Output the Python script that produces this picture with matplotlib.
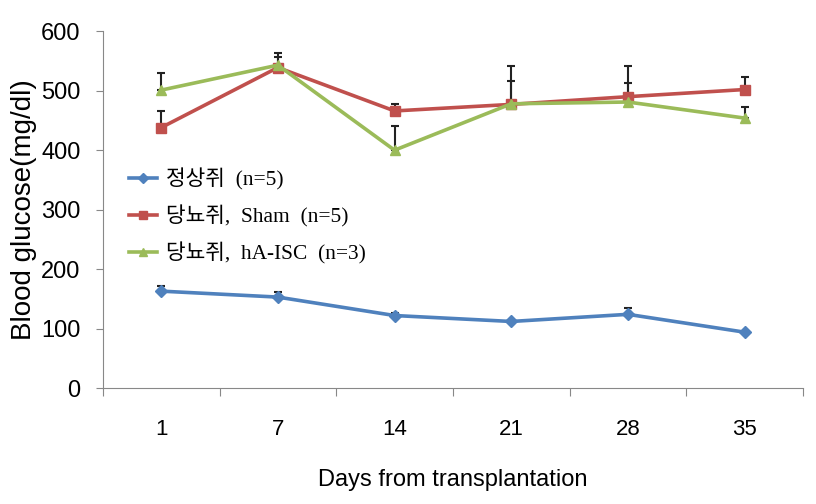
import numpy as np
import matplotlib.pyplot as plt

# data
days = ["1", "7", "14", "21", "28", "35"]

normal = [163, 153, 122, 112, 124, 94]
normal_err = [8, 8, 4, 0, 10, 0]

sham = [438, 539, 466, 477, 490, 502]
sham_err = [28, 25, 12, 65, 52, 21]

isc = [501, 543, 400, 478, 481, 454]
isc_err = [28, 14, 40, 39, 32, 19]

labels = ["정상쥐  (n=5)", "당뇨쥐,  Sham  (n=5)", "당뇨쥐,  hA-ISC  (n=3)"]

plt.rcParams['font.family'] = ['Liberation Sans', 'DejaVu Sans']

fig = plt.figure(figsize=(8.16, 5.04), dpi=100)
ax = fig.add_axes([0.126, 0.23, 0.858, 0.708])

x = np.arange(len(days))
series = [
    (normal, normal_err, "#4F81BD", "D", 6),
    (sham, sham_err, "#C0504D", "s", 7),
    (isc, isc_err, "#9BBB59", "^", 7),
]

handles = []
for (vals, errs, col, mk, ms), lab in zip(series, labels):
    vals = np.array(vals)
    errs = np.array(errs)
    ax.errorbar(x, vals, yerr=[np.zeros_like(errs), errs], fmt="none",
                ecolor="#222222", elinewidth=1.5, capsize=3, capthick=1.5,
                zorder=2)
    h, = ax.plot(x, vals, color=col, lw=2.6, marker=mk, ms=ms,
                 markeredgecolor=col, label=lab, zorder=3)
    handles.append(h)

ax.set_xlim(-0.5, len(days) - 0.5)
ax.set_ylim(0, 600)
ax.set_yticks(range(0, 601, 100))
ax.set_xticks(np.arange(-0.5, len(days), 1.0))
ax.set_xticklabels([])
ax.set_xticks(x, minor=True)
ax.set_xticklabels(days, minor=True)
ax.tick_params(axis="x", which="major", length=6, color="#888888")
ax.tick_params(axis="x", which="minor", length=0, pad=22, labelsize=16)
ax.tick_params(axis="y", length=5, color="#888888", labelsize=17, pad=11)

for s in ["top", "right"]:
    ax.spines[s].set_visible(False)
for s in ["left", "bottom"]:
    ax.spines[s].set_color("#888888")

ax.set_ylabel("Blood glucose(mg/dl)", fontsize=20, labelpad=3)
ax.set_xlabel("Days from transplantation", fontsize=17, labelpad=21)

leg = ax.legend(handles=handles, loc="upper left",
                bbox_to_anchor=(0.01, 0.67), frameon=False,
                prop={"family": ["Liberation Serif", "Noto Sans CJK KR"],
                      "size": 15.4},
                handlelength=1.3, handletextpad=0.42, labelspacing=0.7,
                markerscale=0.8)

fig.savefig("out.png", dpi=100)
